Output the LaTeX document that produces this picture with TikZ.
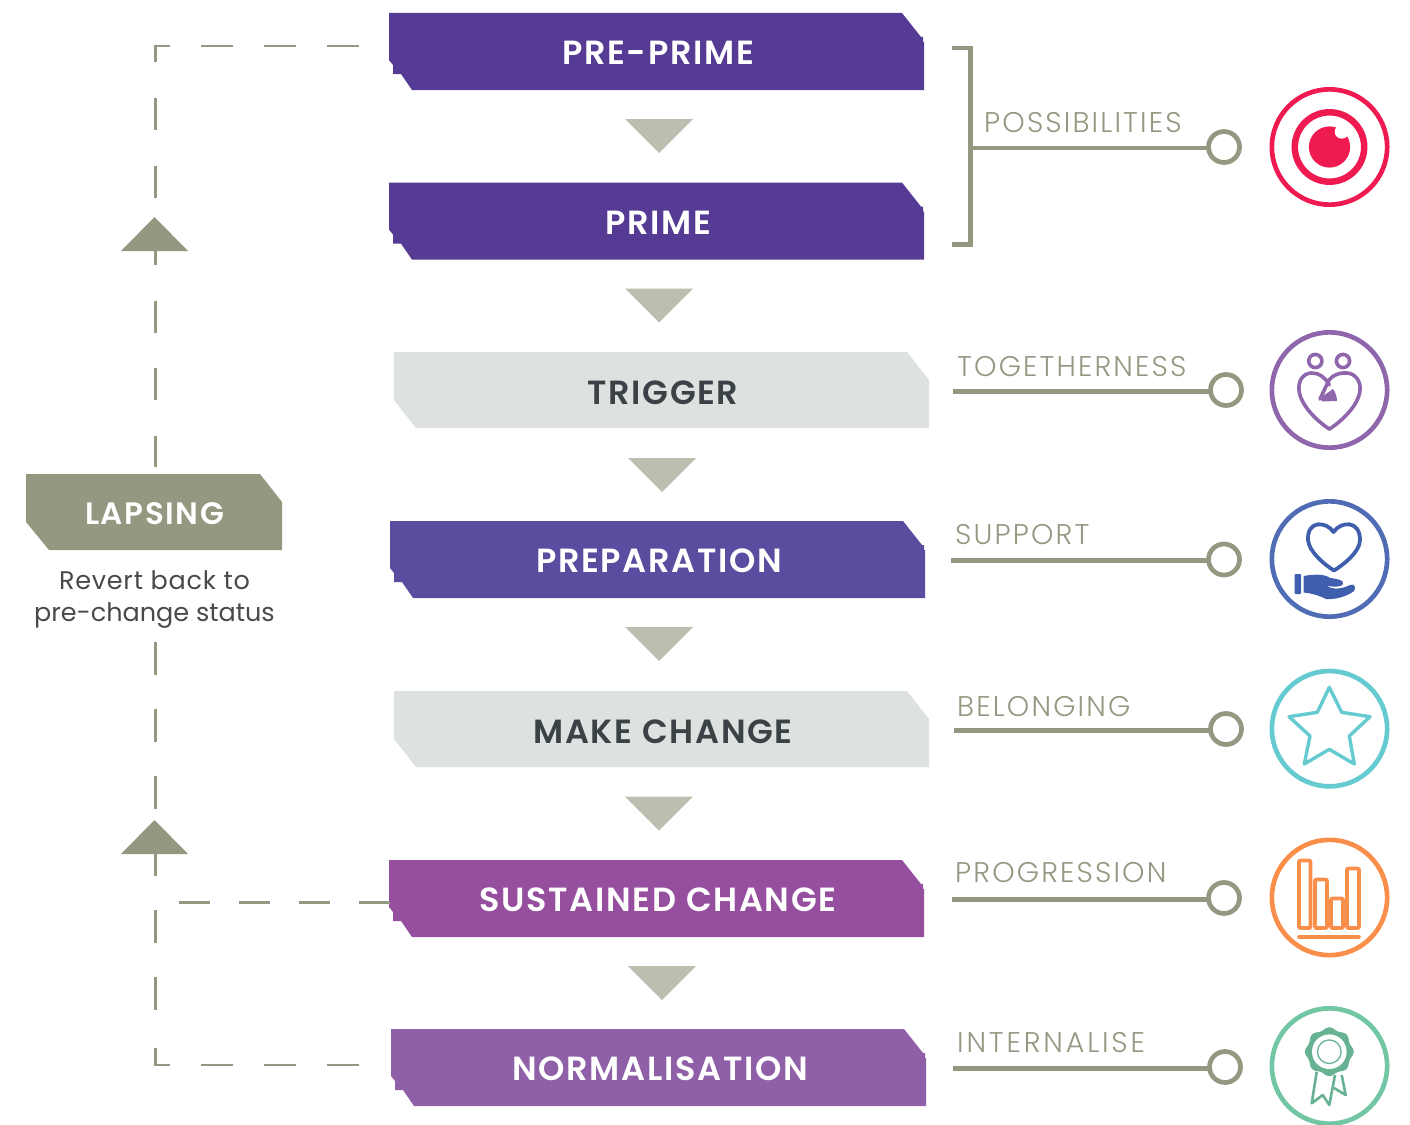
\documentclass[tikz,border=0pt]{standalone}
\usepackage{fontspec}
\setmainfont{Poppins}
\newfontfamily\bannerfont{Poppins SemiBold}[LetterSpace=5]
\newfontfamily\labelfont{Poppins Light}[LetterSpace=7.5]
\newfontfamily\bodyfont{Poppins}
\usetikzlibrary{calc}
\definecolor{linegrey}{HTML}{969781}
\definecolor{triang}{HTML}{BDBDB0}
\definecolor{pale}{HTML}{DDE1E0}
\definecolor{darktxt}{HTML}{3A4245}
\definecolor{bodytxt}{HTML}{4A4A4A}
\definecolor{purA}{HTML}{553B94}
\definecolor{purB}{HTML}{5A4D9F}
\definecolor{purC}{HTML}{964F9E}
\definecolor{purD}{HTML}{8F5FA8}
\definecolor{iconred}{HTML}{EF1A50}
\definecolor{iconpur}{HTML}{8F66AB}
\definecolor{iconblue}{HTML}{4F6CB5}
\definecolor{handblue}{HTML}{3F5FAE}
\definecolor{iconteal}{HTML}{66CBD1}
\definecolor{iconorange}{HTML}{F98F4B}
\definecolor{icongreen}{HTML}{72C6A3}
\tikzset{
  bannertxt/.style={font=\bannerfont\fontsize{33.5}{36}\selectfont,text=white,inner sep=0},
  paletxt/.style={font=\bannerfont\fontsize{33.5}{36}\selectfont,text=darktxt,inner sep=0},
  steplabel/.style={font=\labelfont\fontsize{28.5}{32}\selectfont,text=linegrey,inner sep=0,anchor=west},
  tie/.style={draw=linegrey,line width=4.6pt},
  knob/.style={circle,draw=linegrey,line width=4.7pt,fill=white,minimum size=31pt,inner sep=0,outer sep=0},
  badge/.style={circle,line width=4.7pt,fill=white,minimum size=115.3pt,inner sep=0,outer sep=0},
  dashline/.style={draw=linegrey,line width=2.4pt},
}
\newcommand{\darkbanner}[6]{%
  \begin{scope}[shift={(#2,#3)}]
    \fill[#4] (0,0) -- (513,0) -- (532,24) -- (534,24) -- (534,29) -- (535,29) -- (535,77)
      -- (23,77) -- (12,61) -- (4,61) -- (4,52) -- (0,47) -- cycle;
    \node[bannertxt] (#1) at (#5,40) {#6};
  \end{scope}}
\newcommand{\palebanner}[5]{%
  \begin{scope}[shift={(#2,#3)}]
    \fill[pale] (0,0) -- (513,0) -- (535,28) -- (535,76) -- (22,76) -- (0,48) -- cycle;
    \node[paletxt] (#1) at (#4,40.5) {#5};
  \end{scope}}
\newcommand{\downtri}[2]{\fill[triang] (#1,#2) -- ++(68,0) -- ++(-34,34) -- cycle;}
\newcommand{\uptri}[1]{\fill[linegrey] (121,#1) -- (188,#1) -- (154.5,#1-34) -- cycle;}
\begin{document}
\begin{tikzpicture}[x=1pt,y=-1pt]
\useasboundingbox (0,0) rectangle (1410,1124);
% banners
\darkbanner{preprime}{389}{13}{purA}{269}{PRE-PRIME}
\darkbanner{prime}{389}{182.6}{purA}{269}{PRIME}
\palebanner{trigger}{394}{352}{269}{TRIGGER}
\darkbanner{preparation}{390}{521}{purB}{269}{PREPARATION}
\palebanner{makechange}{394}{691}{269}{MAKE CHANGE}
\darkbanner{sustained}{389}{860}{purC}{269}{SUSTAINED CHANGE}
\darkbanner{normal}{391}{1029}{purD}{269}{NORMALISATION}
% down triangles
\downtri{625}{119}
\downtri{625}{288.5}
\downtri{628}{458}
\downtri{625}{627}
\downtri{625}{796.5}
\downtri{628}{966}
% lapsing
\fill[linegrey] (26,474) -- (260,474) -- (282,502) -- (282,550) -- (49,550) -- (26,522) -- cycle;
\node[font=\bannerfont\fontsize{31}{34}\selectfont,text=white,inner sep=0] (lapsing) at (154.5,513.5) {LAPSING};
\node[font=\bodyfont\fontsize{25.5}{32}\selectfont,text=bodytxt,align=center,inner sep=0] (revert) at (154.5,599.5) {\addfontfeature{LetterSpace=3}Revert back to\\pre-change status};
% dashed return lines
\coordinate (topstart) at (359,46);
\coordinate (topcorner) at (155.5,46);
\coordinate (topend) at (155.5,62);
\coordinate (upA) at (155.5,98);
\coordinate (upB) at (155.5,467);
\coordinate (upC) at (155.5,642);
\coordinate (upD) at (155.5,1013);
\coordinate (botstart) at (359,1065);
\coordinate (botcorner) at (155.5,1065);
\coordinate (botend) at (155.5,1045);
\coordinate (sustart) at (390,902.5);
\coordinate (suend) at (177,902.5);
\draw[dashline,dash pattern=on 32pt off 31pt] (topstart) -- (topcorner) -- (topend);
\draw[dashline,dash pattern=on 32pt off 35.5pt] (upA) -- (upB);
\draw[dashline,dash pattern=on 33pt off 34pt] (upC) -- (upD);
\draw[dashline,dash pattern=on 32pt off 31pt] (botstart) -- (botcorner) -- (botend);
\draw[dashline,dash pattern=on 31pt off 29pt] (sustart) -- (suend);
\uptri{251}
\uptri{854}
% bracket and labels
\node[knob] (k1) at (1224,147) {};
\node[knob] (k2) at (1226,390) {};
\node[knob] (k3) at (1224,559.5) {};
\node[knob] (k4) at (1226,729) {};
\node[knob] (k5) at (1224,898) {};
\node[knob] (k6) at (1225,1067) {};
\coordinate (bracketmid) at (970.5,148);
\coordinate (l2) at (953,391.5);
\coordinate (l3) at (951,560.5);
\coordinate (l4) at (954,730.5);
\coordinate (l5) at (952,899.5);
\coordinate (l6) at (953,1068.5);
\draw[tie] (952,48) -- (970.5,48) -- (970.5,244.5) -- (952,244.5);
\draw[tie] (bracketmid) -- (k1.west |- bracketmid);
\draw[tie] (l2) -- (k2.west |- l2);
\draw[tie] (l3) -- (k3.west |- l3);
\draw[tie] (l4) -- (k4.west |- l4);
\draw[tie] (l5) -- (k5.west |- l5);
\draw[tie] (l6) -- (k6.west |- l6);
\node[steplabel] (tA) at (984,123) {POSSIBILITIES};
\node[steplabel] (tB) at (957,367) {TOGETHERNESS};
\node[steplabel] (tC) at (955,535) {SUPPORT};
\node[steplabel] (tD) at (957,707) {BELONGING};
\node[steplabel] (tE) at (955,873) {PROGRESSION};
\node[steplabel] (tF) at (957,1043) {\addfontfeature{LetterSpace=10}INTERNALISE};
% badges
\node[badge,draw=iconred] (iA) at (1329.5,147) {};
\node[badge,draw=iconpur] (iB) at (1329.5,390) {};
\node[badge,draw=iconblue] (iC) at (1329.5,559) {};
\node[badge,draw=iconteal] (iD) at (1329.5,728.7) {};
\node[badge,draw=iconorange] (iE) at (1329.5,897.5) {};
\node[badge,draw=icongreen] (iF) at (1329.5,1066) {};
% eye
\draw[iconred,line width=6.5pt] (1329.5,147) circle[radius=34.7];
\fill[iconred] (1329.5,147) circle[radius=20.6];
\fill[white] (1341.7,131.7) circle[radius=7];
% couple heart
\begin{scope}[iconpur,line width=3.6pt,line cap=round,line join=round]
\draw (1315.3,361) circle[radius=6.6];
\draw (1343,361) circle[radius=6.6];
\draw (1329.3,385) .. controls (1325,377) and (1318,372.5) .. (1311,373)
  .. controls (1303,373.5) and (1298,381) .. (1299,390)
  .. controls (1300,405) and (1318,422) .. (1329.3,429)
  .. controls (1341,422) and (1359,405) .. (1360,390)
  .. controls (1361,381) and (1355,373.5) .. (1347,373)
  .. controls (1339,372.5) and (1333,375) .. (1329,380)
  -- (1320,399);
\fill (1320,398) -- (1333,389) .. controls (1336,393) and (1337,398) .. (1337,401) -- (1322,401.5) -- cycle;
\end{scope}
% helping hand
\draw[handblue,line width=3.8pt,line join=round] (1333.5,532)
  .. controls (1326,521) and (1307,520) .. (1308,540)
  .. controls (1309,552) and (1325,565) .. (1334,570.5)
  .. controls (1343,565) and (1360,552) .. (1360,540)
  .. controls (1360,520) and (1341,521) .. (1333.5,532) -- cycle;
\fill[handblue,rounded corners=1pt] (1294.5,574) rectangle (1301,594);
\fill[handblue] (1303.5,576) .. controls (1315,574) and (1325,574) .. (1330,578)
  .. controls (1338,579) and (1344,580) .. (1343,584)
  .. controls (1342,587) and (1334,587) .. (1327,586)
  .. controls (1333,590) and (1342,589) .. (1350,585)
  .. controls (1355,583) and (1356,588) .. (1354,591)
  .. controls (1348,596) and (1335,600) .. (1326,599)
  .. controls (1318,595) and (1310,593) .. (1303.5,592.5) -- cycle;
% star
\draw[iconteal,line width=3.4pt,line join=round] (1329.3,687.3) -- (1341.7,712.3) -- (1370,716.7)
  -- (1349.3,736) -- (1354.3,764) -- (1329.3,749.3) -- (1304.3,764) -- (1310,736)
  -- (1289,716.7) -- (1317.3,712.3) -- cycle;
% bars
\begin{scope}[iconorange,line width=3.6pt,line join=round]
\draw[rounded corners=1pt] (1299,860.5) rectangle (1310.5,928);
\draw[rounded corners=1pt] (1315,879.5) rectangle (1327,928);
\draw[rounded corners=1pt] (1331,898.5) rectangle (1343,928);
\draw[rounded corners=1pt] (1347,868.5) rectangle (1359,928);
\draw[line cap=round] (1299,936.7) -- (1359,936.7);
\end{scope}
% rosette
\begin{scope}[icongreen!90!black]
\draw[line width=2.6pt,line join=round] (1316.7,1071.7) -- (1311.7,1103.3) -- (1322.7,1095) -- (1329.3,1105) -- (1335,1075);
\draw[line width=2.6pt,line join=round] (1341.7,1075) -- (1345.7,1095) -- (1334,1088);
\fill plot[smooth cycle,domain=0:352.5,samples=48] ({1329.3+(23.2+1.3*cos(8*\x))*cos(\x)},{1051.7+(23.2+1.3*cos(8*\x))*sin(\x)});
\fill[white] (1329.3,1051.7) circle[radius=17.3];
\draw[line width=1.3pt] (1329.3,1051.7) circle[radius=11.8];
\end{scope}
\end{tikzpicture}
\end{document}
